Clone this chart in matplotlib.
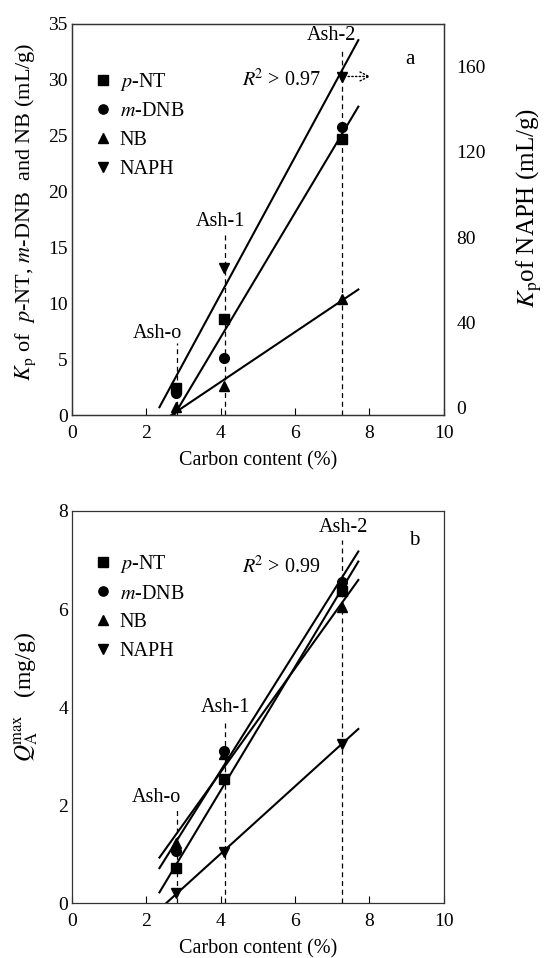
import numpy as np
import matplotlib
matplotlib.use('Agg')
import matplotlib.pyplot as plt

plt.rcParams['font.family'] = ['Liberation Serif', 'DejaVu Serif']
plt.rcParams['mathtext.fontset'] = 'stix'
plt.rcParams['font.size'] = 14.5

# sample positions (carbon content, %)
carbon = [2.8, 4.1, 7.25]
samples = ['Ash-o', 'Ash-1', 'Ash-2']

# panel a: Kp (mL/g)
kp_pnt = [2.4, 8.6, 24.7]
kp_mdnb = [2.0, 5.1, 25.8]
kp_nb = [0.7, 2.6, 10.4]
kp_naph = [8.4, 65.7, 155.3]   # right axis

# panel b: Q_A max (mg/g)
q_pnt = [0.71, 2.53, 6.37]
q_mdnb = [1.06, 3.10, 6.55]
q_nb = [1.22, 3.04, 6.04]
q_naph = [0.20, 1.05, 3.25]

names = ['$\\it{p}$-NT', '$\\it{m}$-DNB', 'NB', 'NAPH']
marks = ['s', 'o', '^', 'v']


def fitline(ax, y, x0=2.35, x1=7.7):
    k, b = np.polyfit(carbon, y, 1)
    xs = np.array([x0, x1])
    ax.plot(xs, k * xs + b, color='k', lw=1.5, zorder=2)


def style(ax):
    ax.set_xlim(0, 10)
    ax.set_xticks([0, 2, 4, 6, 8, 10])
    ax.tick_params(axis='both', labelsize=14)
    ax.tick_params(axis='x', direction='in', length=5, width=0.8, pad=7)
    ax.tick_params(axis='y', length=0, pad=3)
    for s in ax.spines.values():
        s.set_linewidth(0.9)
        s.set_color('#333333')
    ax.set_xlabel('Carbon content (%)', labelpad=7)


fig = plt.figure(figsize=(5.5, 9.58), dpi=100)

# ---------- panel a ----------
ax = fig.add_axes([0.131, 0.5668, 0.676, 0.4082])
ax2 = ax.twinx()
style(ax)
ax.set_ylim(0, 35)
ax.set_yticks(range(0, 36, 5))
ax2.set_ylim(-3.3, 180)
ax2.set_yticks([0, 40, 80, 120, 160])
ax2.tick_params(axis='y', length=0, pad=9, labelsize=14)
for s in ax2.spines.values():
    s.set_linewidth(0.9)
    s.set_color('#333333')

h = []
for y, m, n in zip([kp_pnt, kp_mdnb, kp_nb], marks[:3], names[:3]):
    h += ax.plot(carbon, y, m, color='k', ms=7, label=n, zorder=4)
h += ax2.plot(carbon, kp_naph, 'v', color='k', ms=7, label=names[3], zorder=4)
fitline(ax, kp_mdnb)
fitline(ax, kp_nb)
fitline(ax2, kp_naph)

# sample marks
ax.text(2.3, 7.3, samples[0], ha='center', va='center')
ax.plot([2.82, 2.82], [0, 6.4], '--', color='k', lw=0.9, dashes=(4, 3))
ax.text(3.98, 17.3, samples[1], ha='center', va='center')
ax.plot([4.11, 4.11], [0, 16.1], '--', color='k', lw=0.9, dashes=(4, 3))
ax.text(6.97, 34.0, samples[2], ha='center', va='center')
ax.plot([7.27, 7.27], [0, 32.8], '--', color='k', lw=0.9, dashes=(4, 3))

ax.text(5.64, 30.0, '$\\it{R}$$^2$ > 0.97', ha='center', va='center')
ax.annotate('', xy=(8.1, 30.3), xytext=(7.35, 30.3),
            arrowprops=dict(arrowstyle='->', ls=':', lw=1.0, color='k',
                            mutation_scale=16))
ax.text(9.08, 31.8, 'a', ha='center', va='center', fontsize=15)

ax.legend(handles=h, loc='upper left', bbox_to_anchor=(0.055, 0.88),
          frameon=False, handlelength=1.0, handletextpad=0.35,
          labelspacing=0.47, borderpad=0, borderaxespad=0, markerscale=0.95)

ax.set_ylabel('$\\it{K}$$_\\mathrm{p}$ of  $\\it{p}$-NT, $\\it{m}$-DNB  and NB (mL/g)',
              fontsize=16)
ax.yaxis.set_label_coords(-0.092, 0.52)
ax2.set_ylabel('$\\it{K}$$_\\mathrm{p}$of NAPH (mL/g)', fontsize=18)
ax2.yaxis.set_label_coords(1.19, 0.53)

# ---------- panel b ----------
bx = fig.add_axes([0.131, 0.0574, 0.676, 0.4092])
style(bx)
bx.set_ylim(0, 8)
bx.set_yticks([0, 2, 4, 6, 8])

hb = []
for y, m, n in zip([q_pnt, q_mdnb, q_nb, q_naph], marks, names):
    hb += bx.plot(carbon, y, m, color='k', ms=7, label=n, zorder=4)
for y in [q_pnt, q_mdnb, q_nb, q_naph]:
    fitline(bx, y)

bx.text(2.27, 2.16, samples[0], ha='center', va='center')
bx.plot([2.82, 2.82], [0, 1.95], '--', color='k', lw=0.9, dashes=(4, 3))
bx.text(4.13, 3.98, samples[1], ha='center', va='center')
bx.plot([4.11, 4.11], [0, 3.7], '--', color='k', lw=0.9, dashes=(4, 3))
bx.text(7.3, 7.67, samples[2], ha='center', va='center')
bx.plot([7.27, 7.27], [0, 7.4], '--', color='k', lw=0.9, dashes=(4, 3))

bx.text(5.64, 6.85, '$\\it{R}$$^2$ > 0.99', ha='center', va='center')
bx.text(9.2, 7.4, 'b', ha='center', va='center', fontsize=15)

bx.legend(handles=hb, loc='upper left', bbox_to_anchor=(0.055, 0.893),
          frameon=False, handlelength=1.0, handletextpad=0.35,
          labelspacing=0.47, borderpad=0, borderaxespad=0, markerscale=0.95)
bx.set_ylabel('$\\it{Q}$$_\\mathrm{A}^\\mathrm{max}$   (mg/g)', fontsize=17)
bx.yaxis.set_label_coords(-0.087, 0.525)

fig.savefig('out.png', dpi=100)
